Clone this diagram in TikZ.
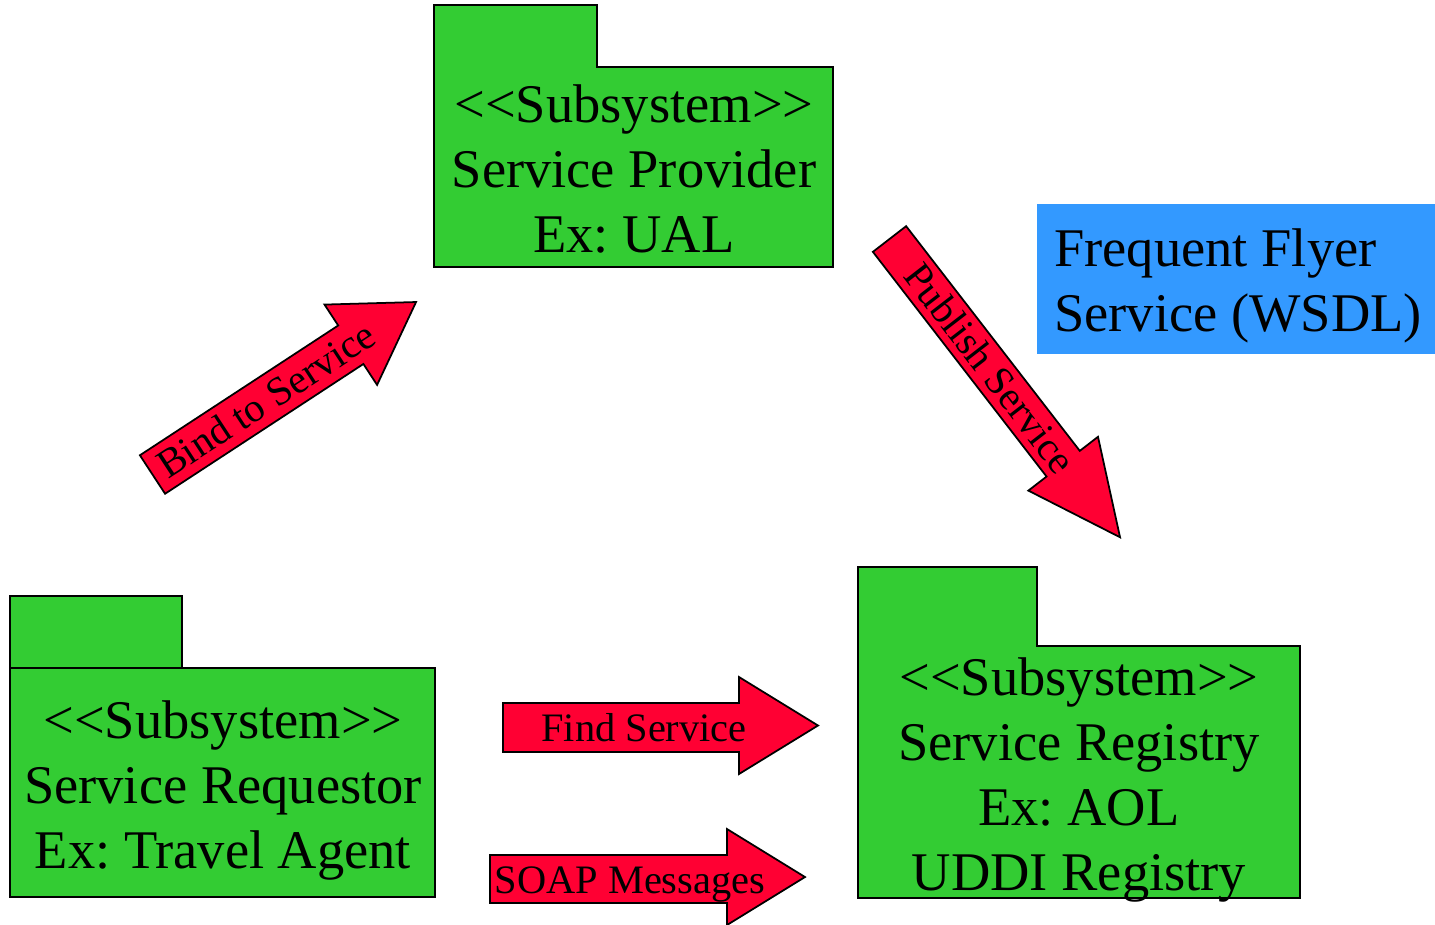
\documentclass[tikz,border=0pt]{standalone}
\usepackage{fontspec}
\setmainfont{Liberation Serif}
\frenchspacing

\definecolor{PackageGreen}{RGB}{51,204,51}
\definecolor{ArrowRed}{RGB}{255,0,51}
\definecolor{NoteBlue}{RGB}{51,153,255}

\begin{document}
\begin{tikzpicture}[
    x=0.02cm, y=-0.02cm,
    package/.style={draw=black, fill=PackageGreen, line width=1pt, line join=miter},
    blockarrow/.style={draw=black, fill=ArrowRed, line width=1pt, line join=miter},
    pkglabel/.style={font=\fontsize{31}{37}\selectfont, align=center, inner sep=0pt},
    arrowlabel/.style={font=\fontsize{23}{27}\selectfont, inner sep=0pt,
        text height=15pt, text depth=0pt, transform shape},
]
    \useasboundingbox (0,0) rectangle (1435,924);

    % Service provider package (tab merged with body)
    \draw[package] (434,267) -- (434,5) -- (597,5) -- (597,67) -- (833,67)
        -- (833,267) -- cycle;
    \node[pkglabel] (provider) at (634,168.5)
        {<{}<Subsystem>{}>\\ Service Provider\\ Ex: UAL};

    % Service requestor package (separate tab)
    \draw[package] (10,668) rectangle (435,897);
    \draw[package] (10,596) rectangle (182,668);
    \node[pkglabel] (requestor) at (223,790)
        {<{}<Subsystem>{}>\\ Service Requestor\\ Ex: Travel Agent};

    % Service registry package
    \draw[package] (858,898) -- (858,567) -- (1037,567) -- (1037,646) -- (1300,646)
        -- (1300,898) -- cycle;
    \node[pkglabel] (registry) at (1079,779.5)
        {<{}<Subsystem>{}>\\ Service Registry\\ Ex: AOL\\ UDDI Registry};

    % WSDL note
    \fill[NoteBlue] (1037,204) rectangle (1435,354);
    \node[pkglabel, align=left, anchor=west] (wsdl) at (1054,285.5)
        {Frequent Flyer\\ Service (WSDL)};

    % Bind to Service
    \begin{scope}[shift={(152.5,474.5)}, rotate=33.2]
        \draw[blockarrow] (0,-23) -- (237,-23) -- (237,-48) -- (315,0)
            -- (237,48) -- (237,23) -- (0,23) -- cycle;
        \node[arrowlabel] (bind) at (136,0) {Bind to Service};
    \end{scope}

    % Publish Service
    \begin{scope}[shift={(889.5,239)}, rotate=-52.3]
        \draw[blockarrow] (0,-21) -- (284,-21) -- (284,-44) -- (377,0)
            -- (284,44) -- (284,21) -- (0,21) -- cycle;
        \node[arrowlabel] (publish) at (164,0) {Publish Service};
    \end{scope}

    % Find Service
    \draw[blockarrow] (503,703) -- (739,703) -- (739,677) -- (818,725.5)
        -- (739,774) -- (739,752) -- (503,752) -- cycle;
    \node[arrowlabel] (find) at (644,728) {Find Service};

    % SOAP Messages
    \draw[blockarrow] (490,855) -- (727,855) -- (727,829) -- (805,877)
        -- (727,925) -- (727,903) -- (490,903) -- cycle;
    \node[arrowlabel] (soap) at (630,880) {SOAP Messages};
\end{tikzpicture}
\end{document}
